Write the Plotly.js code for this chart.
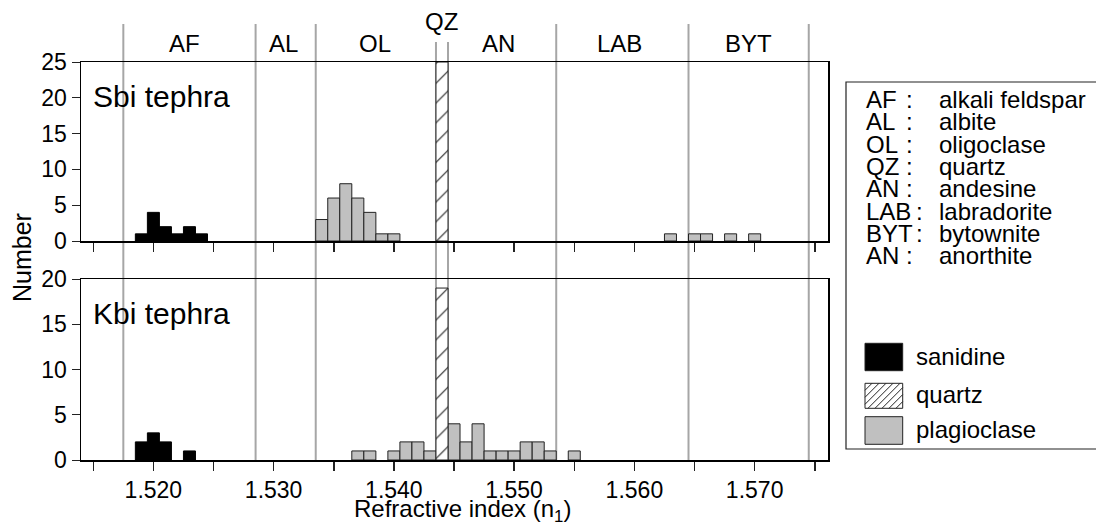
<!DOCTYPE html>
<html>
<head>
<meta charset="utf-8">
<script src="https://cdn.plot.ly/plotly-3.0.1.min.js"></script>
<style>html,body{margin:0;padding:0;background:#fff;}#chart{width:1096px;height:525px;}</style>
</head>
<body>
<div id="chart"></div>
<script>
// ---------------- data ----------------
const sbiSanidineX = [1.519, 1.520, 1.521, 1.522, 1.523, 1.524];
const sbiSanidineN = [1, 4, 2, 1, 2, 1];
const sbiQuartzX = [1.544];
const sbiQuartzN = [25];
const sbiPlagX = [1.534, 1.535, 1.536, 1.537, 1.538, 1.539, 1.540, 1.563, 1.565, 1.566, 1.568, 1.570];
const sbiPlagN = [3, 6, 8, 6, 4, 1, 1, 1, 1, 1, 1, 1];

const kbiSanidineX = [1.519, 1.520, 1.521, 1.523];
const kbiSanidineN = [2, 3, 2, 1];
const kbiQuartzX = [1.544];
const kbiQuartzN = [19];
const kbiPlagX = [1.537, 1.538, 1.540, 1.541, 1.542, 1.543, 1.545, 1.546, 1.547, 1.548, 1.549, 1.550, 1.551, 1.552, 1.553, 1.555];
const kbiPlagN = [1, 1, 1, 2, 2, 1, 4, 2, 4, 1, 1, 1, 2, 2, 1, 1];

const zoneBounds = [1.5175, 1.5285, 1.5335, 1.5435, 1.5445, 1.5535, 1.5645, 1.5745];
const zoneLabels = ['AF', 'AL', 'OL', 'QZ', 'AN', 'LAB', 'BYT'];
const zoneLabelX = [1.5226, 1.5308, 1.5384, 1.5440, 1.5487, 1.5588, 1.5695];

const xMajorTicks = [1.520, 1.530, 1.540, 1.550, 1.560, 1.570];
const xTickLabels = ['1.520', '1.530', '1.540', '1.550', '1.560', '1.570'];
const xMinorTicks = [1.515, 1.525, 1.535, 1.545, 1.555, 1.565, 1.575];

const panelNames = ['Sbi tephra', 'Kbi tephra'];
const abbrevs = ['AF', 'AL', 'OL', 'QZ', 'AN', 'LAB', 'BYT', 'AN'];
const mineralNames = ['alkali feldspar', 'albite', 'oligoclase', 'quartz', 'andesine', 'labradorite', 'bytownite', 'anorthite'];
const swatchNames = ['sanidine', 'quartz', 'plagioclase'];

// ---------------- layout helpers ----------------
const W = 1096, H = 525;
const M = {l: 81, r: 268, t: 62, b: 65};
const PW = W - M.l - M.r, PH = H - M.t - M.b;
const px2x = p => (p - M.l) / PW;
const px2y = p => (H - M.b - p) / PH;

const FONT = 'Liberation Sans, Arial, Helvetica, sans-serif';
const BW = 0.001;
const plagColor = '#c0c0c0';
const LFS = 24; // legend font size

function sanTrace(x, y, xa, ya) {
  return {type: 'bar', x: x, y: y, width: BW, xaxis: xa, yaxis: ya, showlegend: false, hoverinfo: 'x+y',
    marker: {color: 'black', line: {color: 'black', width: 1}}};
}
function plagTrace(x, y, xa, ya) {
  return {type: 'bar', x: x, y: y, width: BW, xaxis: xa, yaxis: ya, showlegend: false, hoverinfo: 'x+y',
    marker: {color: plagColor, line: {color: '#222', width: 1}}};
}
function qzTrace(x, y, xa, ya) {
  return {type: 'bar', x: x, y: y, width: BW, xaxis: xa, yaxis: ya, showlegend: false, hoverinfo: 'x+y',
    marker: {color: 'white', line: {color: '#222', width: 1},
      pattern: {shape: '/', fgcolor: '#222', bgcolor: 'white', size: 14, solidity: 0.08}}};
}

const traces = [
  sanTrace(sbiSanidineX, sbiSanidineN, 'x', 'y'),
  plagTrace(sbiPlagX, sbiPlagN, 'x', 'y'),
  qzTrace(sbiQuartzX, sbiQuartzN, 'x', 'y'),
  sanTrace(kbiSanidineX, kbiSanidineN, 'x2', 'y2'),
  plagTrace(kbiPlagX, kbiPlagN, 'x2', 'y2'),
  qzTrace(kbiQuartzX, kbiQuartzN, 'x2', 'y2')
];

const xRange = [1.51398, 1.5761];
const topDomain = [px2y(241), 1];
const botDomain = [0, px2y(279)];

function xaxisDef(showLabels, anchor) {
  return {range: xRange, anchor: anchor, showline: true, linecolor: 'black', linewidth: 1.5, mirror: true,
    ticks: 'outside', ticklen: 9, tickwidth: 1.5, tickcolor: '#222',
    tickmode: 'array', tickvals: xMajorTicks, ticktext: xTickLabels, showticklabels: showLabels,
    minor: {tickmode: 'array', tickvals: xMinorTicks, ticks: 'outside', ticklen: 9, tickwidth: 1.5, tickcolor: '#222', showgrid: false},
    showgrid: false, zeroline: false, tickfont: {family: FONT, size: 23, color: 'black'}};
}
function yaxisDef(range, domain, anchor) {
  return {range: range, domain: domain, anchor: anchor, showline: true, linecolor: 'black', linewidth: 1.5, mirror: true,
    ticks: 'outside', ticklen: 8, tickwidth: 1, tickcolor: '#222', dtick: 5, tick0: 0,
    showgrid: false, zeroline: false, tickfont: {family: FONT, size: 23, color: 'black'}};
}

const shapes = [];
const annotations = [];

// zone boundary lines
const topY = px2y(24), qzTopY = px2y(42);
zoneBounds.forEach((b, i) => {
  const isQz = (i === 3 || i === 4);
  shapes.push({type: 'line', xref: 'x', yref: 'paper', x0: b, x1: b, y0: 0, y1: isQz ? qzTopY : topY,
    line: {color: '#a6a6a6', width: 2}, layer: 'below'});
});
zoneLabels.forEach((t, i) => {
  const isQz = t === 'QZ';
  annotations.push({xref: 'x', yref: 'paper', x: zoneLabelX[i], y: isQz ? px2y(21) : px2y(44), text: t,
    showarrow: false, xanchor: 'center', yanchor: 'middle', font: {family: FONT, size: 24, color: 'black'}});
});

// panel names
annotations.push({xref: 'paper', yref: 'paper', x: px2x(91), y: px2y(96), text: panelNames[0], showarrow: false,
  xanchor: 'left', yanchor: 'middle', font: {family: FONT, size: 30, color: 'black'}});
annotations.push({xref: 'paper', yref: 'paper', x: px2x(91), y: px2y(313), text: panelNames[1], showarrow: false,
  xanchor: 'left', yanchor: 'middle', font: {family: FONT, size: 30, color: 'black'}});

// axis titles
annotations.push({xref: 'paper', yref: 'paper', x: px2x(22), y: px2y(258), text: 'Number', textangle: -90, showarrow: false,
  xanchor: 'center', yanchor: 'middle', font: {family: FONT, size: 25, color: 'black'}});
annotations.push({xref: 'paper', yref: 'paper', x: px2x(462), y: px2y(510), text: 'Refractive index (n<sub>1</sub>)', showarrow: false,
  xanchor: 'center', yanchor: 'middle', font: {family: FONT, size: 24, color: 'black'}});

// legend box
shapes.push({type: 'rect', xref: 'paper', yref: 'paper', x0: px2x(846), x1: px2x(1110), y0: px2y(449), y1: px2y(82),
  line: {color: '#222', width: 1.2}, fillcolor: 'rgba(0,0,0,0)'});
const rowY0 = 99.5, rowStep = 22.3;
abbrevs.forEach((a, i) => {
  const y = px2y(rowY0 + i * rowStep);
  annotations.push({xref: 'paper', yref: 'paper', x: px2x(864), y: y, text: a, showarrow: false, xanchor: 'left', yanchor: 'middle',
    font: {family: FONT, size: LFS, color: 'black'}});
  const colonX = (a.length === 3) ? 914 : 904;
  annotations.push({xref: 'paper', yref: 'paper', x: px2x(colonX), y: y, text: ':', showarrow: false, xanchor: 'left', yanchor: 'middle',
    font: {family: FONT, size: LFS, color: 'black'}});
  annotations.push({xref: 'paper', yref: 'paper', x: px2x(937), y: y, text: mineralNames[i], showarrow: false, xanchor: 'left', yanchor: 'middle',
    font: {family: FONT, size: LFS, color: 'black'}});
});
// swatches
const sw = [[343.3, 370.7], [383.3, 408.3], [416.7, 444.3]];
const swFill = ['black', 'white', plagColor];
sw.forEach((s, i) => {
  shapes.push({type: 'rect', xref: 'paper', yref: 'paper', x0: px2x(865), x1: px2x(902.7), y0: px2y(s[1]), y1: px2y(s[0]),
    line: {color: '#222', width: 1}, fillcolor: swFill[i]});
  annotations.push({xref: 'paper', yref: 'paper', x: px2x(914), y: px2y((s[0] + s[1]) / 2 - 1), text: swatchNames[i], showarrow: false,
    xanchor: 'left', yanchor: 'middle', font: {family: FONT, size: LFS, color: 'black'}});
});
// hatch for quartz swatch
(function () {
  const x0 = 865, x1 = 902.7, yt = 383.3, yb = 408.3, w = x1 - x0, h = yb - yt, step = 7;
  let d = '';
  for (let c = -h; c < w; c += step) {
    const ts = Math.max(0, -c), te = Math.min(h, w - c);
    if (te > ts) {
      const ax = x0 + c + ts, ay = yb - ts, bx = x0 + c + te, by = yb - te;
      d += 'M' + px2x(ax) + ',' + px2y(ay) + 'L' + px2x(bx) + ',' + px2y(by);
    }
  }
  shapes.push({type: 'path', xref: 'paper', yref: 'paper', path: d, line: {color: '#222', width: 1}});
})();

const layout = {
  width: W, height: H, margin: M,
  paper_bgcolor: 'white', plot_bgcolor: 'rgba(0,0,0,0)',
  barmode: 'overlay', bargap: 0,
  showlegend: false,
  xaxis: xaxisDef(false, 'y'),
  yaxis: yaxisDef([0, 25], topDomain, 'x'),
  xaxis2: xaxisDef(true, 'y2'),
  yaxis2: yaxisDef([0, 20], botDomain, 'x2'),
  shapes: shapes,
  annotations: annotations,
  font: {family: FONT, color: 'black'}
};

Plotly.newPlot('chart', traces, layout, {displayModeBar: false, staticPlot: true});
</script>
</body>
</html>
